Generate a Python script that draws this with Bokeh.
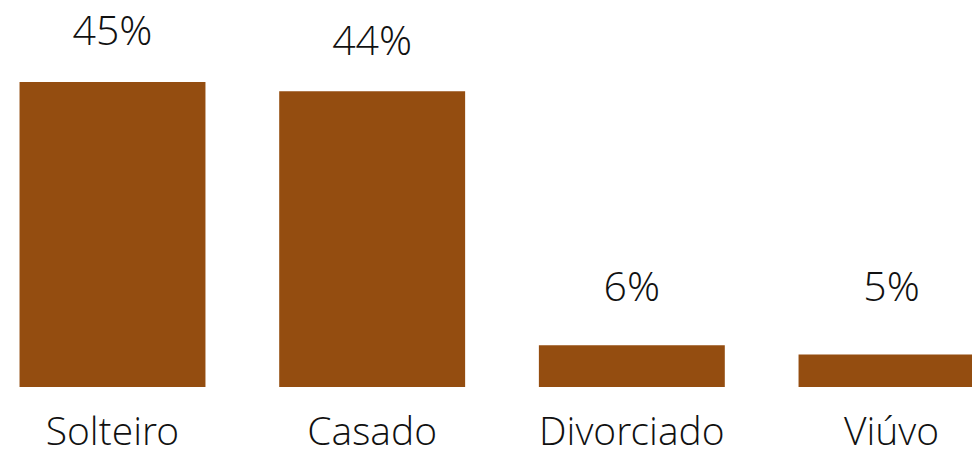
from bokeh.plotting import figure
from bokeh.models import ColumnDataSource, Range1d
from bokeh.core.properties import value
from bokeh.embed import file_html
from bokeh.resources import INLINE

categories = ["Solteiro", "Casado", "Divorciado", "Viúvo"]
shares = [45.2, 43.8, 6.2, 4.8]
labels = [f"{round(v)}%" for v in shares]

BAR_COLOR = "#944D10"
FONT = "'Open Sans Light', 'Lato Light', 'Open Sans'"
LABEL_FLOOR = 7.3  # minimum label anchor height (data units)

xs = list(range(len(categories)))
src = ColumnDataSource(dict(
    x=xs,
    top=shares,
    label=labels,
    label_y=[max(v, LABEL_FLOOR) for v in shares],
    cat=categories,
    base=[0] * len(xs),
))

p = figure(
    width=972, height=457,
    x_range=Range1d(-0.4313, 3.3119),
    y_range=Range1d(-10.44, 57.26),
    output_backend="svg", toolbar_location=None,
    min_border=0,
)

p.vbar(x="x", top="top", bottom=0, width=0.716, source=src,
       fill_color=BAR_COLOR, line_color=None)

# value labels above the bars
p.text(x="x", y="label_y", text="label", source=src,
       text_align="center", text_baseline="alphabetic", y_offset=-52.5,
       text_font=value(FONT), text_font_size="41px", text_color="#111111")

# category labels below the baseline
p.text(x="x", y="base", text="cat", source=src,
       text_align="center", text_baseline="alphabetic", y_offset=42,
       text_font=value(FONT), text_font_size="39px", text_color="#111111")

p.xaxis.visible = False
p.yaxis.visible = False
p.xgrid.visible = False
p.ygrid.visible = False
p.outline_line_color = None

open("out.html", "w").write(file_html(p, INLINE))
